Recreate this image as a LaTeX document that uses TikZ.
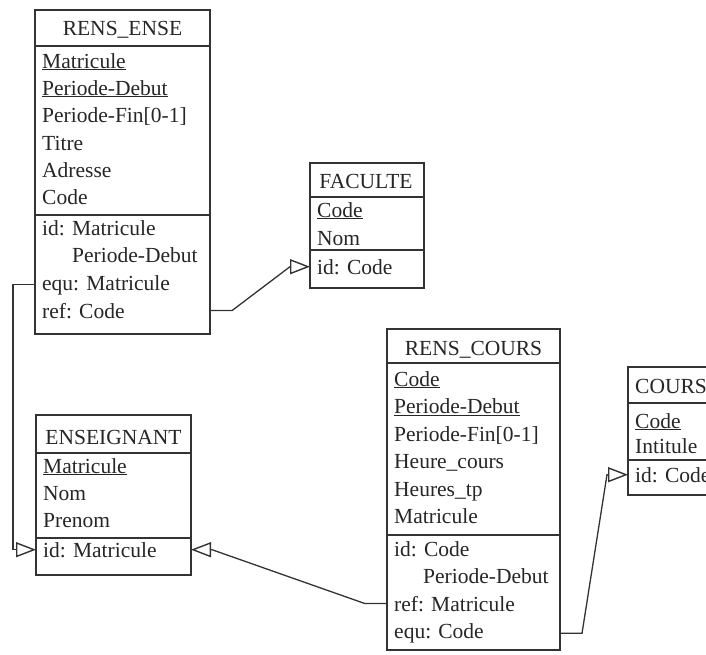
\documentclass[tikz,border=0pt]{standalone}
\usepackage{fontspec}
\setmainfont{Liberation Serif}
\usetikzlibrary{arrows.meta,calc}

\begin{document}
\begin{tikzpicture}[x=1pt,y=-1pt,
  every node/.style={font=\fontsize{21.5}{26}\selectfont},
  entity/.style={draw=black!80, line width=1.3pt, anchor=north west,
    inner sep=0pt, outer sep=0pt},
  title/.style={anchor=base, inner sep=0pt, text=black!85},
  attr/.style={anchor=base west, inner sep=0pt, text=black!85},
  rule/.style={draw=black!80, line width=1.2pt},
  link/.style={draw=black!80, line width=1.3pt,
    -{Triangle[open, length=20pt, width=15pt, line width=1.4pt]}}
]
\useasboundingbox (0,0) rectangle (706,654);
\fill[white] (0,0) rectangle (706,654);
\clip (0,0) rectangle (706,654);

% ---------- RENS_ENSE ----------
\node[entity, minimum width=175pt, minimum height=324pt] (ense) at (35,10) {};
\draw[rule] (35,46) -- (210,46);
\draw[rule] (35,215) -- (210,215);
\node[title] (ense-t) at (122.5,35) {RENS\_ENSE};
\node[attr] (ense-a1) at (42,68)  {\underline{Matricule}};
\node[attr] (ense-a2) at (42,95)  {\underline{Periode-Debut}};
\node[attr] (ense-a3) at (42,122) {Periode-Fin[0-1]};
\node[attr] (ense-a4) at (42,150) {Titre};
\node[attr] (ense-a5) at (42,177) {Adresse};
\node[attr] (ense-a6) at (42,204) {Code};
\node[attr] (ense-id)  at (42,235) {id: Matricule};
\node[attr] (ense-id2) at (72,262) {Periode-Debut};
\node[attr] (ense-equ) at (42,290) {equ: Matricule};
\node[attr] (ense-ref) at (42,318) {ref: Code};

% ---------- FACULTE ----------
\node[entity, minimum width=114pt, minimum height=125pt] (fac) at (310,163) {};
\draw[rule] (310,197) -- (424,197);
\draw[rule] (310,250) -- (424,250);
\node[title] (fac-t) at (366,188) {FACULTE};
\node[attr] (fac-a1) at (317,217) {\underline{Code}};
\node[attr] (fac-a2) at (317,245) {Nom};
\node[attr] (fac-id) at (317,274) {id: Code};

% ---------- ENSEIGNANT ----------
\node[entity, minimum width=155pt, minimum height=160pt] (ens) at (36,415) {};
\draw[rule] (36,453) -- (191,453);
\draw[rule] (36,538) -- (191,538);
\node[title] (ens-t) at (113.5,444) {ENSEIGNANT};
\node[attr] (ens-a1) at (43,473) {\underline{Matricule}};
\node[attr] (ens-a2) at (43,500) {Nom};
\node[attr] (ens-a3) at (43,527) {Prenom};
\node[attr] (ens-id) at (43,557) {id: Matricule};

% ---------- RENS_COURS ----------
\node[entity, minimum width=173pt, minimum height=321pt] (rc) at (387,329) {};
\draw[rule] (387,363) -- (560,363);
\draw[rule] (387,535) -- (560,535);
\node[title] (rc-t) at (473.5,355) {RENS\_COURS};
\node[attr] (rc-a1) at (394,386)   {\underline{Code}};
\node[attr] (rc-a2) at (394,413.5) {\underline{Periode-Debut}};
\node[attr] (rc-a3) at (394,441)   {Periode-Fin[0-1]};
\node[attr] (rc-a4) at (394,468.5) {Heure\_cours};
\node[attr] (rc-a5) at (394,496)   {Heures\_tp};
\node[attr] (rc-a6) at (394,523.5) {Matricule};
\node[attr] (rc-id)  at (394,556)   {id: Code};
\node[attr] (rc-id2) at (423,583.5) {Periode-Debut};
\node[attr] (rc-ref) at (394,611)   {ref: Matricule};
\node[attr] (rc-equ) at (394,638.5) {equ: Code};

% ---------- COURS (runs past the right edge) ----------
\node[entity, minimum width=90pt, minimum height=128pt] (cours) at (628,367) {};
\draw[rule] (628,403) -- (718,403);
\draw[rule] (628,460) -- (718,460);
\node[attr] (cours-t)  at (635,393) {COURS};
\node[attr] (cours-a1) at (635,428) {\underline{Code}};
\node[attr] (cours-a2) at (635,453) {Intitule};
\node[attr] (cours-id) at (635,482) {id: Code};

% ---------- references ----------
\draw[link] (ense-ref.center -| ense.east) -- ++(22,0)
  -- ($(fac-id.center -| fac.west)+(-20,0)$) -- (fac-id.center -| fac.west);
\draw[link] (ense-equ.center -| ense.west) -- ++(-22,0)
  |- (ens-id.center -| ens.west);
\draw[link] (rc-ref.center -| rc.west) -- ++(-22,0)
  -- ($(ens-id.center -| ens.east)+(21,0)$) -- (ens-id.center -| ens.east);
\draw[link] (rc-equ.center -| rc.east) -- ++(22,0)
  -- ($(cours-id.center -| cours.west)+(-21,0)$) -- (cours-id.center -| cours.west);
\end{tikzpicture}
\end{document}
